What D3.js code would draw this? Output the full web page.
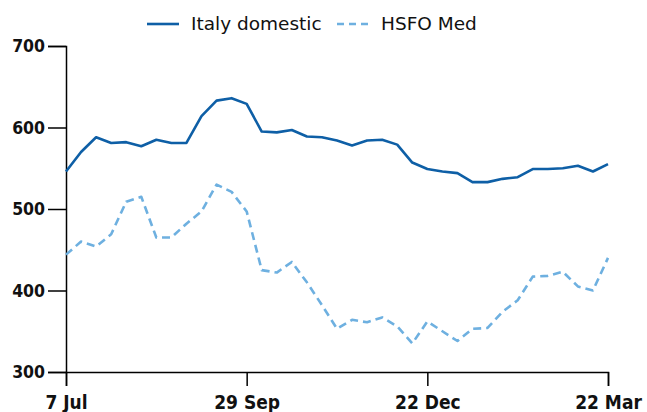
<!DOCTYPE html>
<html>
<head>
<meta charset="utf-8">
<script src="https://cdn.jsdelivr.net/npm/d3@7"></script>
<style>
  body { margin: 0; background: #fff; }
  #chart { width: 647px; height: 412px; }
  text { font-family: "DejaVu Sans", sans-serif; }
  .tick text { font-family: "DejaVu Sans Condensed", "DejaVu Sans", sans-serif; }
</style>
</head>
<body>
<div id="chart"></div>
<script>
// weekly points, 7 Jul .. 22 Mar
const weeks = d3.range(37);
const tickIndex = [0, 12, 24, 36];
const tickLabels = ['7 Jul', '29 Sep', '22 Dec', '22 Mar'];
const yTicks = [300, 400, 500, 600, 700];

const italyDomestic = [
  546, 570, 588, 581, 582, 577, 585, 581, 581, 614, 633, 636, 629,
  595, 594, 597, 589, 588, 584, 578, 584, 585, 579, 557, 549,
  546, 544, 533, 533, 537, 539, 549, 549, 550, 553, 546, 555
];
const hsfoMed = [
  444, 460, 454, 469, 509, 515, 465, 465, 482, 497, 530, 521, 497,
  425, 422, 435, 410, 382, 353, 364, 361, 367, 356, 335, 362,
  350, 338, 353, 354, 374, 388, 417, 418, 423, 405, 400, 440
];

const series = [
  { name: 'Italy domestic', values: italyDomestic, color: '#0e5fa6', dash: null },
  { name: 'HSFO Med', values: hsfoMed, color: '#6eb0e0', dash: '8,5' }
];

function drawChart(target) {
  const width = 647;
  const height = 412;
  const margin = { top: 46, right: 39, bottom: 40, left: 66 };

  const svg = d3.select(target).append('svg')
    .attr('width', width)
    .attr('height', height);

  const x = d3.scaleLinear()
    .domain([0, weeks.length - 1])
    .range([margin.left, width - margin.right]);

  const y = d3.scaleLinear()
    .domain([300, 700])
    .range([height - margin.bottom, margin.top]);

  // axes
  const yAxis = svg.append('g')
    .attr('transform', `translate(${margin.left},0)`)
    .call(d3.axisLeft(y).tickValues(yTicks).tickSize(18).tickPadding(3).tickFormat(d3.format('d')));

  const xAxis = svg.append('g')
    .attr('transform', `translate(0,${height - margin.bottom})`)
    .call(d3.axisBottom(x).tickValues(tickIndex).tickSize(14).tickPadding(10)
      .tickFormat((d, i) => tickLabels[i]));

  [xAxis, yAxis].forEach(ax => {
    ax.select('.domain').attr('stroke', '#000').attr('stroke-width', 1.5);
    ax.selectAll('.tick line').attr('stroke', '#000').attr('stroke-width', 1.5);
    ax.selectAll('.tick text')
      .attr('fill', '#111')
      .style('font-weight', 'bold');
  });
  yAxis.selectAll('.tick text').style('font-size', '17.5px');
  xAxis.selectAll('.tick text').style('font-size', '19px');

  // lines
  const line = d3.line()
    .x((d, i) => x(weeks[i]))
    .y(d => y(d));

  series.forEach(s => {
    svg.append('path')
      .datum(s.values)
      .attr('fill', 'none')
      .attr('stroke', s.color)
      .attr('stroke-width', 2.6)
      .attr('stroke-linejoin', 'round')
      .attr('stroke-dasharray', s.dash)
      .attr('d', line);
  });

  // legend
  const legend = svg.append('g').attr('transform', 'translate(147,24)');
  const legendX = [0, 190];
  series.forEach((s, i) => {
    const g = legend.append('g').attr('transform', `translate(${legendX[i]},0)`);
    g.append('line')
      .attr('x1', 0).attr('x2', 32)
      .attr('stroke', s.color)
      .attr('stroke-width', 2.6)
      .attr('stroke-dasharray', s.dash ? '7,5' : null);
    g.append('text')
      .attr('x', 44)
      .attr('dy', '0.35em')
      .attr('fill', '#111')
      .style('font-size', '18.5px')
      .text(s.name);
  });
}

drawChart('#chart');
</script>
</body>
</html>
